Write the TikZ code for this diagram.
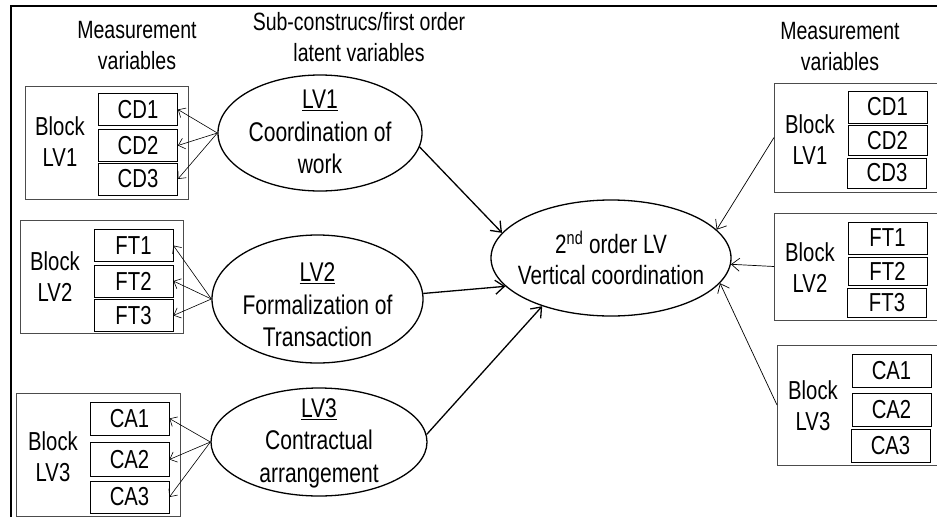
\documentclass[tikz,border=0pt]{standalone}
\usepackage{fontspec}
\setmainfont[FakeStretch=0.78]{Liberation Sans}
\usetikzlibrary{arrows.meta,shapes.geometric}

\tikzset{
  hdr/.style={align=center, inner sep=0pt, font=\fontsize{25}{31}\selectfont},
  blockbox/.style={draw=black!70, line width=0.8pt, inner sep=0pt},
  blocktxt/.style={align=center, inner sep=0pt, font=\fontsize{26}{31}\selectfont},
  item/.style={draw, line width=0.8pt, inner sep=0pt, minimum width=79pt,
    minimum height=32pt, font=\fontsize{26}{28}\selectfont},
  lv/.style={draw, ellipse, line width=1.3pt, inner sep=0pt},
  lvtxt/.style={align=center, inner sep=0pt, font=\fontsize{27}{32.5}\selectfont},
  meas/.style={-{Straight Barb[length=6pt,width=11pt]}, line width=0.6pt},
  inner/.style={-{Straight Barb[length=9pt,width=14pt]}, line width=1.3pt},
  outer/.style={-{Straight Barb[length=8pt,width=13pt]}, line width=0.7pt},
}

\begin{document}
\begin{tikzpicture}[x=1pt,y=-1pt]
\useasboundingbox (0,0) rectangle (937,517);

% page frame (top and left edges)
\draw[line width=2.4pt] (937,6) -- (11,6) -- (11,517);

% column headings
\node[hdr] (hL) at (137,46) {Measurement\\variables};
\node[hdr] (hM) at (359,37) {Sub-construcs/first order\\latent variables};
\node[hdr] (hR) at (840,47) {Measurement\\variables};

% ---- left measurement blocks ----
\node[blockbox, minimum width=163pt, minimum height=113pt] (bl1) at (106.5,142.5) {};
\node[blocktxt] (bl1t) at (60,142) {Block\\LV1};
\node[item] (lcd1) at (138,109.5) {CD1};
\node[item] (lcd2) at (138,145.5) {CD2};
\node[item] (lcd3) at (138,179) {CD3};

\node[blockbox, minimum width=163pt, minimum height=113pt] (bl2) at (101.5,276.5) {};
\node[blocktxt] (bl2t) at (55,277) {Block\\LV2};
\node[item] (lft1) at (133.5,245.5) {FT1};
\node[item] (lft2) at (133.5,281) {FT2};
\node[item] (lft3) at (133.5,315.5) {FT3};

\node[blockbox, minimum width=164pt, minimum height=123pt] (bl3) at (98,455) {};
\node[blocktxt] (bl3t) at (53,457) {Block\\LV3};
\node[item, minimum height=33pt] (lca1) at (129.5,418.5) {CA1};
\node[item, minimum height=34pt] (lca2) at (129.5,459.5) {CA2};
\node[item, minimum height=32pt] (lca3) at (129.5,497) {CA3};

% ---- first order latent variables ----
\node[lv, minimum width=204pt, minimum height=116pt] (e1) at (320,133) {};
\node[lvtxt] (e1t) at (320,132) {\underline{LV1}\\Coordination of\\work};
\node[lv, minimum width=211pt, minimum height=128pt] (e2) at (317.5,299) {};
\node[lvtxt] (e2t) at (317.5,305) {\underline{LV2}\\Formalization of\\Transaction};
\node[lv, minimum width=216pt, minimum height=108pt] (e3) at (319,442) {};
\node[lvtxt] (e3t) at (319,443) {\underline{LV3}\\Contractual\\arrangement};

% ---- second order latent variable ----
\node[lv, minimum width=240pt, minimum height=116pt] (e0) at (611,258) {};
\node[lvtxt, font=\fontsize{26.5}{31}\selectfont] (e0t) at (611,258)
  {2\textsuperscript{nd} order LV\\Vertical coordination};

% ---- right measurement blocks ----
\node[blockbox, minimum width=172pt, minimum height=109pt, anchor=west] (br1) at (774,137.5) {};
\node[blocktxt] (br1t) at (810,140) {Block\\LV1};
\node[item] (rcd1) at (887.5,107) {CD1};
\node[item, minimum height=30pt] (rcd2) at (887.5,140.5) {CD2};
\node[item, minimum height=30pt] (rcd3) at (887,173) {CD3};

\node[blockbox, minimum width=172pt, minimum height=107pt, anchor=west] (br2) at (774,266.5) {};
\node[blocktxt] (br2t) at (810,268) {Block\\LV2};
\node[item] (rft1) at (887.5,238) {FT1};
\node[item, minimum height=28pt] (rft2) at (887.5,271.5) {FT2};
\node[item, minimum height=29pt] (rft3) at (887,302.5) {FT3};

\node[blockbox, minimum width=170pt, minimum height=120pt, anchor=west] (br3) at (777,405) {};
\node[blocktxt] (br3t) at (813,406) {Block\\LV3};
\node[item, minimum height=33pt] (rca1) at (891.5,370.5) {CA1};
\node[item, minimum height=33pt] (rca2) at (891.5,409.5) {CA2};
\node[item, minimum height=33pt] (rca3) at (890.5,445.5) {CA3};

% ---- reflective measurement arrows (left) ----
\foreach \t in {lcd1,lcd2,lcd3} \draw[meas] (e1.west) -- (\t.east);
\foreach \t in {lft1,lft2,lft3} \draw[meas] (e2.west) -- (\t.east);
\foreach \t in {lca1,lca2,lca3} \draw[meas] (e3.west) -- (\t.east);

% ---- first order to second order ----
\draw[inner] (e1.-8) -- (e0.167);
\draw[inner] (e2.3) -- (e0.195);
\draw[inner] (e3.4) -- (e0.215.5);

% ---- right blocks to second order ----
\draw[outer] (br1.west) -- (e0.15.3);
\draw[outer] (br2.west) -- (e0.-3);
\draw[outer] (br3.west) -- (e0.-13.7);
\end{tikzpicture}
\end{document}
